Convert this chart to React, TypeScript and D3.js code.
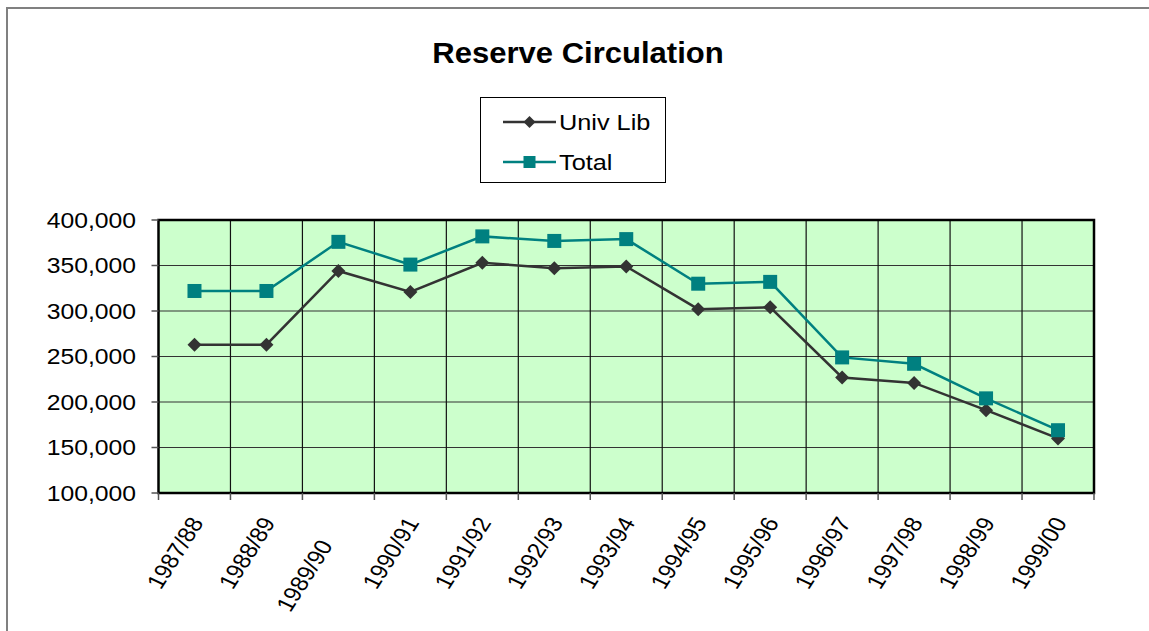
import React from 'react';
import * as d3 from 'd3';

// Reserve circulation per fiscal year
const categories = [
  '1987/88', '1988/89', '1989/90', '1990/91', '1991/92', '1992/93', '1993/94',
  '1994/95', '1995/96', '1996/97', '1997/98', '1998/99', '1999/00',
];
const univLib = [263000, 263000, 344000, 321000, 353000, 347000, 349000, 302000, 304000, 227000, 221000, 191000, 160000];
const total = [322000, 322000, 376000, 351000, 382000, 377000, 379000, 330000, 332000, 249000, 242000, 204000, 169000];
const yTicks = [100000, 150000, 200000, 250000, 300000, 350000, 400000];
const seriesNames = ['Univ Lib', 'Total'];

const W = 1149;
const H = 631;
const plot = { left: 158.5, right: 1094, top: 220, bottom: 493 };
const FONT = '"Liberation Sans", Arial, sans-serif';
const SX = 1.15; // the original text is stretched horizontally
const DARK = '#333333';
const TEAL = '#008080';

function StretchText({ x, y, size, anchor = 'start', weight = 'normal', rotate = 0, dx = 0, dy = '0.35em', sx = SX, children }: any) {
  return (
    <text
      transform={`translate(${x},${y}) scale(${sx},1) rotate(${rotate})`}
      fontFamily={FONT}
      fontSize={size}
      fontWeight={weight}
      textAnchor={anchor}
      dx={dx}
      dy={dy}
      fill="#000"
    >
      {children}
    </text>
  );
}

function Diamond({ cx, cy, r }: { cx: number; cy: number; r: number }) {
  return <path d={`M${cx},${cy - r}L${cx + r},${cy}L${cx},${cy + r}L${cx - r},${cy}Z`} fill={DARK} />;
}

function Square({ cx, cy, r }: { cx: number; cy: number; r: number }) {
  return <rect x={cx - r} y={cy - r} width={r * 2} height={r * 2} fill={TEAL} />;
}

export default function App() {
  const x = d3.scaleBand<string>().domain(categories).range([plot.left, plot.right]);
  const y = d3.scaleLinear().domain([100000, 400000]).range([plot.bottom, plot.top]);
  const cx = (c: string) => (x(c) as number) + x.bandwidth() / 2;
  const fmt = d3.format(',');

  const line = d3
    .line<number>()
    .x((_, i) => cx(categories[i]))
    .y((v) => y(v));

  const boundaries = categories.map((c) => x(c) as number).concat([plot.right]);

  return (
    <svg width={W} height={H} style={{ position: 'absolute', left: 0, top: 0, background: '#fff' }}>
      {/* chart frame */}
      <rect x={7} y={8} width={W + 20} height={H + 20} fill="#fff" stroke="#808080" strokeWidth={2} />

      {/* title */}
      <StretchText x={578} y={53} size={29} sx={1.07} anchor="middle" weight="bold">
        Reserve Circulation
      </StretchText>

      {/* plot area */}
      <rect
        x={plot.left}
        y={plot.top}
        width={plot.right - plot.left}
        height={plot.bottom - plot.top}
        fill="#CCFFCC"
      />
      {yTicks.slice(1, -1).map((t) => (
        <line key={t} x1={plot.left} x2={plot.right} y1={y(t)} y2={y(t)} stroke="#333" strokeWidth={1.2} />
      ))}
      {boundaries.slice(1, -1).map((b, i) => (
        <line key={i} x1={b} x2={b} y1={plot.top} y2={plot.bottom} stroke="#111" strokeWidth={1.2} />
      ))}
      <rect
        x={plot.left}
        y={plot.top}
        width={plot.right - plot.left}
        height={plot.bottom - plot.top}
        fill="none"
        stroke="#000"
        strokeWidth={2.5}
      />

      {/* y axis */}
      {yTicks.map((t) => (
        <g key={t}>
          <line x1={plot.left - 7} x2={plot.left} y1={y(t)} y2={y(t)} stroke="#555" strokeWidth={1.5} />
          <StretchText x={136} y={y(t)} size={21.5} anchor="end">
            {fmt(t)}
          </StretchText>
        </g>
      ))}

      {/* x axis */}
      {boundaries.map((b, i) => (
        <line key={i} x1={b} x2={b} y1={plot.bottom} y2={plot.bottom + 7} stroke="#555" strokeWidth={1.5} />
      ))}
      {categories.map((c, i) => (
        <StretchText
          key={c}
          x={cx(c) + 2}
          y={plot.bottom + 26}
          size={21.5}
          anchor="end"
          rotate={-61}
          dx={i === 2 ? -26 : 0}
          dy="0.35em"
        >
          {c}
        </StretchText>
      ))}

      {/* series */}
      <path d={line(univLib) || ''} fill="none" stroke={DARK} strokeWidth={2.5} />
      {univLib.map((v, i) => (
        <Diamond key={i} cx={cx(categories[i])} cy={y(v)} r={7} />
      ))}
      <path d={line(total) || ''} fill="none" stroke={TEAL} strokeWidth={2.5} />
      {total.map((v, i) => (
        <Square key={i} cx={cx(categories[i])} cy={y(v)} r={7} />
      ))}

      {/* legend */}
      <rect x={480.5} y={97.5} width={185} height={85} fill="#fff" stroke="#000" strokeWidth={1} />
      <line x1={503} x2={556} y1={122} y2={122} stroke={DARK} strokeWidth={2.5} />
      <Diamond cx={529.5} cy={122} r={6} />
      <StretchText x={559} y={122} size={22}>{seriesNames[0]}</StretchText>
      <line x1={503} x2={556} y1={162} y2={162} stroke={TEAL} strokeWidth={2.5} />
      <Square cx={529.5} cy={162} r={6} />
      <StretchText x={559} y={162} size={22}>{seriesNames[1]}</StretchText>
    </svg>
  );
}
